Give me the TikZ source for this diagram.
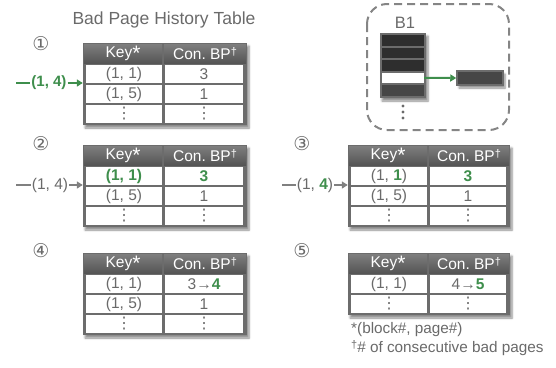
\documentclass[tikz,border=0pt]{standalone}
\usepackage{fontspec}
\setmainfont{Liberation Sans}
\newfontfamily\symfont{DejaVu Sans}
\usetikzlibrary{arrows.meta,shadows.blur,calc}
\definecolor{txtgray}{HTML}{6A6A6A}
\definecolor{framegray}{HTML}{6C6C6C}
\definecolor{headtop}{HTML}{7E7E7E}
\definecolor{headbot}{HTML}{555555}
\definecolor{bpgreen}{HTML}{3E8E4C}
\definecolor{dashgray}{HTML}{858585}
\definecolor{pagedark}{HTML}{2E2E2E}
\definecolor{pagemid}{HTML}{464646}
\tikzset{
  framebox/.style={rectangle, fill=framegray, inner sep=0pt,
    blur shadow={shadow xshift=2pt, shadow yshift=-3pt, shadow blur steps=6, shadow opacity=45}},
  headcell/.style={rectangle, inner sep=0pt, top color=headtop, bottom color=headbot,
    text=white, font=\fontsize{15.5}{17}\selectfont},
  datacell/.style={rectangle, inner sep=0pt, fill=white, text=txtgray,
    font=\fontsize{15.5}{17}\selectfont},
  stepnum/.style={text=txtgray, font=\symfont\fontsize{19}{20}\selectfont, inner sep=0pt},
  lbl/.style={text=txtgray, font=\fontsize{15.5}{17}\selectfont, inner sep=1pt},
  grayarrow/.style={draw=txtgray!85, line width=2pt},
  greenarrow/.style={draw=bpgreen, line width=2pt},
  tip/.style={-{Triangle[length=6pt,width=7pt]}},
  pagebox/.style={rectangle, inner sep=0pt, minimum width=42pt, minimum height=10.5pt},
}
\newcommand\bpframe[5]{%
  \node[framebox, minimum width={#4-#2}, minimum height={22+20*#5}] (#1) at ({(#2+#4)/2},{#3+(22+20*#5)/2}) {};}
\newcommand\bphead[5]{%
  \node[headcell, minimum width={#3-#2-2}, minimum height=19] (#1a) at ({(#2+#3)/2},{#5+10.5}) {Key\raisebox{-3.5pt}{\fontsize{21}{21}\selectfont *}};
  \node[headcell, minimum width={#4-#3-2}, minimum height=19] (#1b) at ({(#3+#4)/2},{#5+10.5}) {Con.~BP\raisebox{4pt}{\fontsize{11}{12}\selectfont †}};}
\newcommand\bprow[7]{%
  \node[datacell, minimum width={#3-#2-4}, minimum height=18] (#1a) at ({(#2+#3+2)/2},{#5+10}) {#6};
  \node[datacell, minimum width={#4-#3-6}, minimum height=18] (#1b) at ({(#3+#4-2)/2},{#5+10}) {#7};}
\newcommand\vd{{\symfont\fontsize{16}{16}\selectfont ⋮}}
\newcommand\gb[1]{{\color{bpgreen}\bfseries #1}}
\begin{document}
\begin{tikzpicture}[x=1pt,y=-1pt]
\useasboundingbox (0,0) rectangle (556,367);

% title
\node[text=txtgray, font=\fontsize{17.5}{19}\selectfont] (title) at (164,20) {Bad Page History Table};

% step numbers
\node[stepnum] (n1) at (41,44) {①};
\node[stepnum] (n2) at (41,144) {②};
\node[stepnum] (n3) at (302,144) {③};
\node[stepnum] (n4) at (41,251) {④};
\node[stepnum] (n5) at (302,251) {⑤};

% table 1
\bpframe{T1f}{83}{43}{247}{3}
\bphead{T1h}{83}{163}{247}{43}
\bprow{T1r1}{83}{163}{247}{64}{(1, 1)}{3}
\bprow{T1r2}{83}{163}{247}{84}{(1, 5)}{1}
\bprow{T1r3}{83}{163}{247}{104}{\vd}{\vd}

% table 2
\bpframe{T2f}{83}{145}{247}{3}
\bphead{T2h}{83}{163}{247}{145}
\bprow{T2r1}{83}{163}{247}{166}{\gb{(1, 1)}}{\gb{3}}
\bprow{T2r2}{83}{163}{247}{186}{(1, 5)}{1}
\bprow{T2r3}{83}{163}{247}{206}{\vd}{\vd}

% table 3
\bpframe{T3f}{348}{145}{510}{3}
\bphead{T3h}{348}{428}{510}{145}
\bprow{T3r1}{348}{428}{510}{166}{(1, \gb{1})}{\gb{3}}
\bprow{T3r2}{348}{428}{510}{186}{(1, 5)}{1}
\bprow{T3r3}{348}{428}{510}{206}{\vd}{\vd}

% table 4
\bpframe{T4f}{83}{253}{247}{3}
\bphead{T4h}{83}{163}{247}{253}
\bprow{T4r1}{83}{163}{247}{274}{(1, 1)}{3→\gb{4}}
\bprow{T4r2}{83}{163}{247}{294}{(1, 5)}{1}
\bprow{T4r3}{83}{163}{247}{314}{\vd}{\vd}

% table 5
\bpframe{T5f}{348}{253}{510}{2}
\bphead{T5h}{348}{428}{510}{253}
\bprow{T5r1}{348}{428}{510}{274}{(1, 1)}{4→\gb{5}}
\bprow{T5r2}{348}{428}{510}{294}{\vd}{\vd}

% incoming keys
\coordinate (a1s) at (16,83);
\node[lbl, text=bpgreen, font=\bfseries\fontsize{15}{17}\selectfont] (a1t) at (49,83) {(1, 4)};
\draw[greenarrow] (a1s) -- (a1t.west);
\draw[greenarrow, tip] (a1t.east) -- (T1f.west |- a1t);

\coordinate (a2s) at (16,185);
\node[lbl] (a2t) at (50,185) {(1, 4)};
\draw[grayarrow] (a2s) -- (a2t.west);
\draw[grayarrow, tip] (a2t.east) -- (T2f.west |- a2t);

\coordinate (a3s) at (282,185);
\node[lbl] (a3t) at (315,185) {(1, \gb{4})};
\draw[grayarrow] (a3s) -- (a3t.west);
\draw[grayarrow, tip] (a3t.east) -- (T3f.west |- a3t);

% block B1 inset
\draw[dashgray, line width=2pt, dash pattern=on 8pt off 5pt, rounded corners=20pt] (367,4) rectangle (509,130);
\node[text=txtgray, font=\fontsize{16.5}{18}\selectfont] (b1) at (405,23) {B1};
\node[framebox, minimum width=46pt, minimum height=65pt] (blk) at (403,65.5) {};
\node[pagebox, fill=pagedark] (p1) at (403,40.3) {};
\node[pagebox, fill=pagedark] (p2) at (403,52.8) {};
\node[pagebox, fill=pagedark] (p3) at (403,65.3) {};
\node[pagebox, fill=white] (p4) at (403,77.8) {};
\node[pagebox, fill=pagemid] (p5) at (403,90.3) {};
\fill[txtgray] (403,106) circle (1.6) (403,112) circle (1.6) (403,118) circle (1.6);
\node[rectangle, inner sep=0pt, minimum width=46pt, minimum height=14pt, fill=pagemid,
  draw=framegray, line width=1.5pt,
  blur shadow={shadow xshift=2pt, shadow yshift=-3pt, shadow blur steps=6, shadow opacity=45}] (tgt) at (480,78) {};
\draw[greenarrow, tip] (p4.east) -- (tgt.west);

% footnotes
\node[lbl, anchor=west, font=\fontsize{15.3}{17}\selectfont] (fn1) at (350,330) {*(block\#, page\#)};
\node[lbl, anchor=west, font=\fontsize{15.3}{17}\selectfont] (fn2) at (350,348) {\raisebox{4pt}{\fontsize{11}{12}\selectfont †}\# of consecutive bad pages};
\end{tikzpicture}
\end{document}
